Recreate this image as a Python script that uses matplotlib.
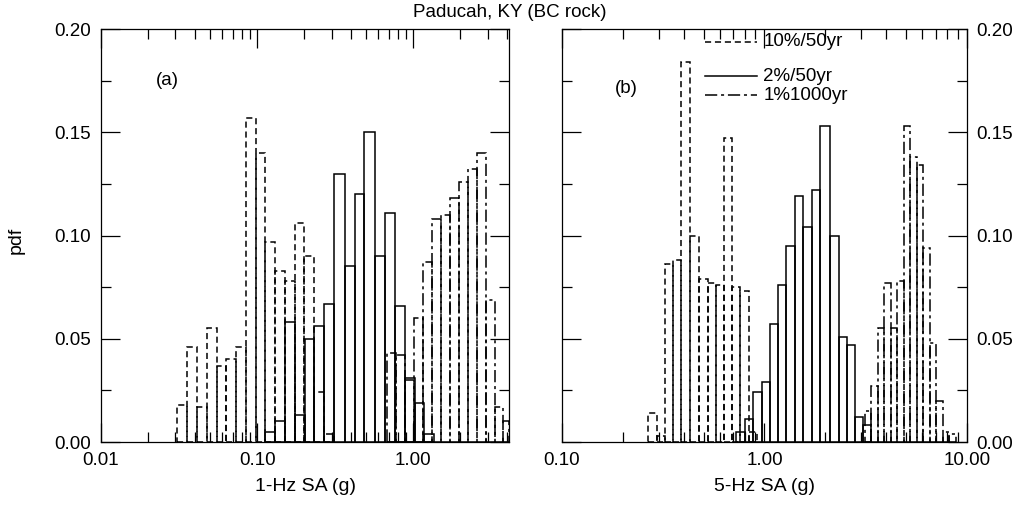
import matplotlib
matplotlib.use("Agg")
import numpy as np
import matplotlib.pyplot as plt
from matplotlib.ticker import FormatStrFormatter, LogLocator, MultipleLocator, NullFormatter

plt.rcParams['font.family'] = ['Liberation Sans', 'DejaVu Sans']



##### DATA #####

# (a) 1-Hz SA : bin edges (g) and pdf values
edges1Hz_10 = [0.0309, 0.0357, 0.0412, 0.0477, 0.0550, 0.0636, 0.0733, 0.0848,
               0.0978, 0.1130, 0.1304, 0.1508, 0.1739, 0.2010, 0.2319, 0.2680, 0.3093]
pdf1Hz_10   = [0.018, 0.046, 0.017, 0.055, 0.037, 0.040, 0.046, 0.157,
               0.140, 0.097, 0.083, 0.078, 0.106, 0.090, 0.024, 0.004]

edges1Hz_2  = [0.1125, 0.1304, 0.1512, 0.1752, 0.2016, 0.2319, 0.2669, 0.3093, 0.3638,
               0.4217, 0.4852, 0.5707, 0.6614, 0.7666, 0.8886, 1.030, 1.176, 1.363]
pdf1Hz_2    = [0.005, 0.010, 0.058, 0.013, 0.050, 0.056, 0.067, 0.130, 0.085,
               0.120, 0.150, 0.090, 0.111, 0.066, 0.031, 0.019, 0.004]

edges1Hz_1  = [0.681, 0.778, 0.889, 1.015, 1.159, 1.324, 1.512, 1.727,
               1.972, 2.252, 2.573, 2.938, 3.355, 3.775, 4.125]
pdf1Hz_1    = [0.043, 0.042, 0.030, 0.060, 0.087, 0.108, 0.110, 0.118,
               0.126, 0.132, 0.140, 0.069, 0.017, 0.010]

# (b) 5-Hz SA
edges5Hz_10 = [0.2659, 0.2945, 0.3226, 0.3533, 0.3870, 0.4286, 0.4747,
               0.5260, 0.5762, 0.6310, 0.6911, 0.7568, 0.8385, 0.9183]
pdf5Hz_10   = [0.014, 0.003, 0.086, 0.088, 0.184, 0.100, 0.079,
               0.077, 0.076, 0.147, 0.075, 0.073, 0.005]

edges5Hz_2  = [0.7233, 0.8012, 0.8773, 0.9720, 1.0646, 1.166, 1.277, 1.414, 1.549,
               1.716, 1.880, 2.106, 2.333, 2.555, 2.799, 3.065, 3.357]
pdf5Hz_2    = [0.005, 0.011, 0.024, 0.029, 0.057, 0.076, 0.095, 0.119,
               0.104, 0.122, 0.153, 0.100, 0.051, 0.047, 0.012, 0.008]

edges5Hz_1  = [3.135, 3.376, 3.636, 3.914, 4.214, 4.538, 4.887, 5.260,
               5.664, 6.099, 6.567, 7.071, 7.613, 8.198, 8.826]
pdf5Hz_1    = [0.015, 0.027, 0.055, 0.077, 0.055, 0.078, 0.153, 0.138,
               0.134, 0.094, 0.048, 0.020, 0.005, 0.004]

seriesLabels = ["10%/50yr", "2%/50yr", "1%1000yr"]
seriesStyles = [(0, (4, 2.5)), "solid", (0, (8, 2.5, 2, 2.5))]



##### FUNCTION DEFINITIONS #####

def drawBars(ax, edges, values, style):
    '''
    Draw outlined histogram bars on a log x axis.
    '''
    edges = np.array(edges)
    ax.bar(edges[:-1], values,
           width = np.diff(edges),
           align = "edge",
           fill = False,
           edgecolor = "black",
           linewidth = 1.1,
           linestyle = style)


def styleAxis(ax, xmin, xmax):
    ax.set_xscale("log")
    ax.set_xlim(xmin, xmax)
    ax.set_ylim(0, 0.20)
    ax.xaxis.set_major_locator(LogLocator(base = 10))
    ax.xaxis.set_minor_locator(LogLocator(base = 10, subs = np.arange(2, 10)))
    ax.xaxis.set_major_formatter(FormatStrFormatter("%.2f"))
    ax.xaxis.set_minor_formatter(NullFormatter())
    ax.yaxis.set_major_locator(MultipleLocator(0.05))
    ax.yaxis.set_minor_locator(MultipleLocator(0.025))
    ax.yaxis.set_major_formatter(FormatStrFormatter("%.2f"))
    ax.tick_params(which = "both", direction = "in", top = True, right = True,
                   left = True, bottom = True, labelsize = 13.5, width = 0.9)
    ax.tick_params(which = "major", length = 14, pad = 7)
    ax.tick_params(which = "minor", length = 7)
    for s in ax.spines.values():
        s.set_linewidth(0.9)



##### DRAW THE FIGURE #####

fig = plt.figure(figsize = (10.30, 5.09), dpi = 100)
axA = fig.add_axes([0.0981, 0.1316, 0.3961, 0.8114])
axB = fig.add_axes([0.5456, 0.1316, 0.3932, 0.8114])

styleAxis(axA, 0.01, 4.12)
styleAxis(axB, 0.1, 10.0)

for edges, vals, st in zip([edges1Hz_10, edges1Hz_2, edges1Hz_1],
                           [pdf1Hz_10, pdf1Hz_2, pdf1Hz_1], seriesStyles):
    drawBars(axA, edges, vals, st)

for edges, vals, st in zip([edges5Hz_10, edges5Hz_2, edges5Hz_1],
                           [pdf5Hz_10, pdf5Hz_2, pdf5Hz_1], seriesStyles):
    drawBars(axB, edges, vals, st)

axB.tick_params(which = "both", labelleft = False, labelright = True)

axA.set_xlabel("1-Hz SA (g)", fontsize = 14, labelpad = 7)
axB.set_xlabel("5-Hz SA (g)", fontsize = 14, labelpad = 7)
fig.text(16 / 1030, 0.528, "pdf", rotation = 90, ha = "center", va = "center", fontsize = 14)

axA.text(0.135, 0.875, "(a)", transform = axA.transAxes, fontsize = 13.5, va = "center")
axB.text(0.13, 0.855, "(b)", transform = axB.transAxes, fontsize = 13.5, va = "center")

# Manual legend in panel (b)
legendY = [0.969, 0.886, 0.840]
for lab, st, yy in zip(seriesLabels, seriesStyles, legendY):
    axB.plot([0.353, 0.481], [yy, yy], transform = axB.transAxes,
             color = "black", linewidth = 1.1, linestyle = st)
    axB.text(0.497, yy, lab, transform = axB.transAxes, fontsize = 13.5, va = "center")

fig.text(0.495, 0.976, "Paducah, KY (BC rock)", ha = "center", va = "center", fontsize = 13.5)

fig.savefig("out.png", dpi = 100)
